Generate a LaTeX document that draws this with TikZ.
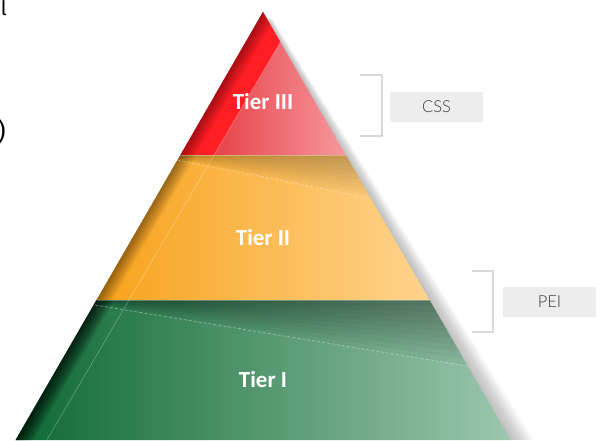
\documentclass[tikz,border=0pt]{standalone}
\usepackage{fontspec}
\setmainfont{Carlito}
\newfontfamily\thinfont{Lato Light}
\newfontfamily\fragfont{Fira Sans}
\usetikzlibrary{calc}

\definecolor{redA}{HTML}{E7424A}
\definecolor{redB}{HTML}{F6999D}
\definecolor{redGlow}{HTML}{FF1E24}
\definecolor{ambA}{HTML}{F7A21A}
\definecolor{ambB}{HTML}{FFD48E}
\definecolor{grnA}{HTML}{0E6836}
\definecolor{grnB}{HTML}{9CC7AD}
\definecolor{bracketgray}{HTML}{D9D9D9}
\definecolor{tagfill}{HTML}{EDEDED}
\definecolor{tagtext}{HTML}{3A3A3A}

\tikzset{
  tierlabel/.style={text=white, font=\bfseries\fontsize{23}{23}\selectfont, inner sep=0pt},
  tagbox/.style={fill=tagfill, minimum width=93pt, minimum height=30pt, inner sep=0pt,
                 text=tagtext, font=\thinfont\fontsize{16.5}{16.5}\selectfont},
  bracket/.style={draw=bracketgray, line width=1.3pt},
  gloss/.style={white, opacity=0.35, line width=0.5pt},
  seam/.style={white, opacity=0.45, line width=0.6pt, dash pattern=on 3pt off 2pt},
}

% left edge of the pyramid: x = 263 - 0.578 (y - 12)
\newcommand{\bevel}[2]{% #1 = number of layers, #2 = opacity per layer
  \foreach \w in {1,...,#1}
    \fill[black, opacity=#2] (264,0) -- (270+\w,0) -- (15.6+\w,440) -- (9,440) -- cycle;
}

\begin{document}
\begin{tikzpicture}[x=1pt, y=-1pt]
\useasboundingbox (0,0) rectangle (604,440);

% soft drop shadow to the right
\foreach \k in {1,...,24}
  \fill[black, opacity=0.012] (263+0.4*\k,12+0.3*\k) -- (510.4+\k,440) -- (15.6+\k,440) -- cycle;

% ---------- Tier III ----------
\begin{scope}
  \clip (263,12) -- (180.3,155) -- (345.7,155) -- cycle;
  \shade[left color=redA, right color=redB] (214,0) rectangle (347,156);
  \fill[redGlow] (200,0) -- (305,0) -- (211.2,160) -- (100,160) -- cycle;
  \bevel{16}{0.022}
\end{scope}

% ---------- Tier II ----------
\begin{scope}
  \clip (180.3,155) -- (345.7,155) -- (429.5,300) -- (96.5,300) -- cycle;
  \shade[left color=ambA, right color=ambB] (96,150) rectangle (431,301);
  \foreach \t in {0.1,0.2,...,1.0}
    \fill[black, opacity=0.025] (90,150) -- (440,150) -- (440,155+\t*56.7) -- (90,155-\t*12.2) -- cycle;
  \bevel{16}{0.026}
\end{scope}

% ---------- Tier I ----------
\begin{scope}
  \clip (96.5,300) -- (429.5,300) -- (510.4,440) -- (15.6,440) -- cycle;
  \shade[left color=grnA, right color=grnB] (15,295) rectangle (512,441);
  \foreach \t in {0.1,0.2,...,1.0}
    \fill[black, opacity=0.04] (10,295) -- (520,295) -- (520,300+\t*74.6) -- (10,300-\t*8.9) -- cycle;
  \bevel{18}{0.055}
\end{scope}

% glossy highlight lines over the whole pyramid
\begin{scope}
  \clip (263,12) -- (510.4,440) -- (15.6,440) -- cycle;
  \draw[gloss] (305,0) -- (46.9,440);
  \draw[seam] (177.5,160) -- (370.5,198);
  \draw[seam] (95,305) -- (467.6,366);
  \draw[white, opacity=0.3, line width=0.6pt] (180.3,155.3) -- (345.7,155.3);
  \draw[white, opacity=0.3, line width=0.6pt] (96.5,300.3) -- (429.5,300.3);
\end{scope}

% tier labels
\node[tierlabel] (t3) at (263,102) {Tier III};
\node[tierlabel] (t2) at (263,238) {Tier II};
\node[tierlabel] (t1) at (263,380) {Tier I};

% brackets and tags
\draw[bracket] (360,75) -- (382,75) -- (382,136) -- (360,136);
\draw[bracket] (472,271) -- (493,271) -- (493,332) -- (472,332);
\node[tagbox] (css) at (436.5,107) {CSS};
\node[tagbox] (pei) at (549.5,302) {PEI};

% text running in from the left
\node[anchor=south east, inner sep=0pt, font=\fragfont\fontsize{20}{20}\selectfont, text=black] (fragA) at (7,16) {l};
\node[anchor=east, inner sep=0pt, font=\fragfont\fontsize{25}{25}\selectfont, text=black] (fragB) at (6,132) {)};
\end{tikzpicture}
\end{document}
